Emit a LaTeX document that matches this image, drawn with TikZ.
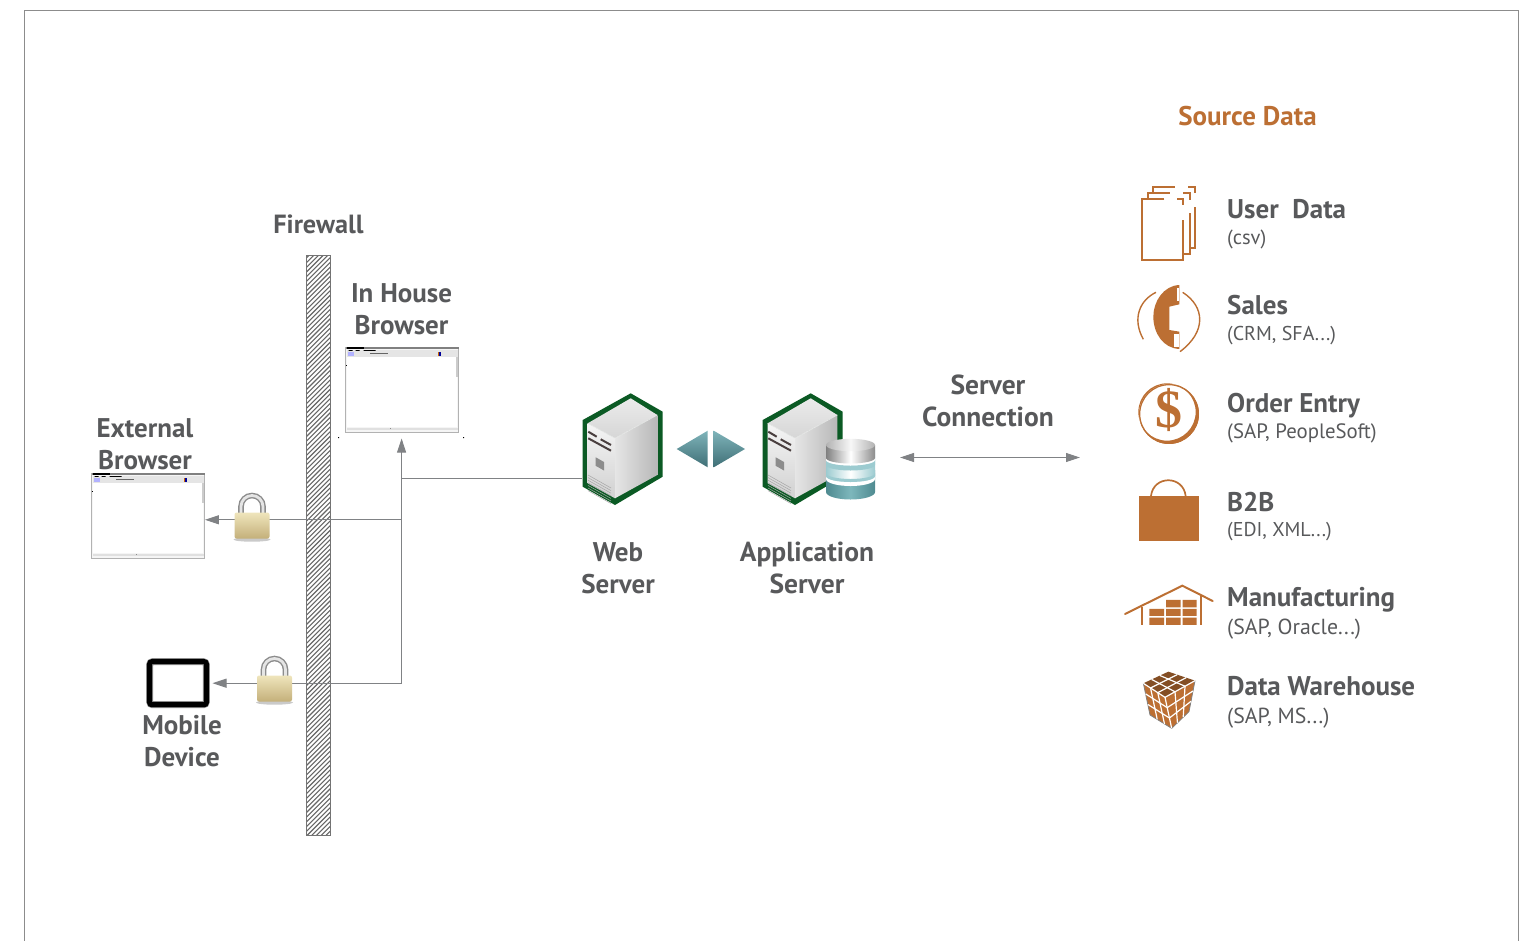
\documentclass[tikz,border=0pt]{standalone}
\usepackage{fontspec}
\setmainfont{PT Sans}
\newfontfamily\dollarfont{Liberation Serif}
\usetikzlibrary{calc,arrows.meta}
\definecolor{txt}{HTML}{58595B}
\definecolor{org}{HTML}{BC6F33}
\definecolor{lnk}{HTML}{808285}
\definecolor{grn}{HTML}{0B5A24}
\definecolor{tanl}{HTML}{EFE5BC}
\definecolor{tand}{HTML}{C4B07A}
\definecolor{tealt}{HTML}{7FB4BA}
\definecolor{tealb}{HTML}{3F6F76}
\definecolor{tealm}{HTML}{9CCBD0}
\definecolor{teald}{HTML}{4F8A90}
\definecolor{teale}{HTML}{7DB7BC}
\definecolor{slot}{HTML}{4A3F3F}
\tikzset{
 x=1pt,y=-1pt,
 head/.style={font=\bfseries\fontsize{27}{32}\selectfont,text=txt,align=center,inner sep=0pt},
 headw/.style={head,font=\bfseries\fontsize{27.5}{32}\selectfont},
 srchead/.style={font=\bfseries\fontsize{27}{28}\selectfont,text=txt,anchor=base west,inner sep=0pt,align=left},
 srcsub/.style={font=\fontsize{#1}{24}\selectfont,text=txt,anchor=base west,inner sep=0pt},
 srcsub/.default=20.5,
 lnkline/.style={draw=lnk,line width=1pt},
 arr/.style={lnkline,-{Triangle[width=9pt,length=14pt]}},
 arrb/.style={lnkline,{Triangle[width=9pt,length=14pt]}-{Triangle[width=9pt,length=14pt]}},
 zoomA/.style={shift={(1120,175)},x=0.3333pt,y=-0.3333pt},
 zoomB/.style={shift={(1120,470)},x=0.3333pt,y=-0.3333pt},
 ic/.style={draw=org,line width=1.7pt},
 serverpic/.pic={
  \fill[grn] (48.7,0.3)--(80.7,18.7)--(80.7,83.7)--(33,112)--(0.7,93.7)--(0.7,27)--cycle;
  \shade[top color=white!92!black,bottom color=white!84!black] (48.7,5.3)--(75.3,22)--(33,45.3)--(5.7,30.3)--cycle;
  \shade[top color=white!96!black,bottom color=white!82!black] (5.7,30.3)--(33,45.3)--(33,105.3)--(5.7,90.3)--cycle;
  \shade[left color=white!90!black,right color=white!72!black] (33,45.3)--(75.3,22)--(75.3,82)--(33,105.3)--cycle;
  \draw[white!92!black,line width=.6pt] (5.7,30.3)--(33,45.3)--(75.3,22);
  \draw[slot,line width=2pt] (6.3,38.7)--(14.7,43.7) (18.7,46.3)--(29,52) (6.3,45.3)--(29,57.7);
  \fill[black!45] (13.7,64.3)--(22,69)--(22,77.5)--(13.7,72.8)--cycle;
  \foreach \k in {0,1,2,3,4,5,6}{\draw[black!35,line width=.5pt] (6,{82+\k*2.6})--(29,{95+\k*2.6});}
 },
 browserpic/.pic={
  \fill[white!96!black] (0,0) rectangle (113,85);
  \fill[white] (1.5,10) rectangle (111,80);
  \draw[black!30,line width=.7pt] (0,0) rectangle (113,85);
  \fill[black!50] (0,0) rectangle (113,2.2);
  \fill[black] (1,0) rectangle (18,2);
  \fill[black!10] (1,3) rectangle (112,9.5);
  \fill[blue!30!white] (2,5) rectangle (8,9);
  \fill[black] (3,3) rectangle (7,3.8) (10,3) rectangle (14,3.8) (18,3) rectangle (30,3.8);
  \fill[black!60] (24,6.3) rectangle (42,7);
  \fill[orange!80!black] (92,5.2) rectangle (93.6,8.5);
  \fill[blue!60!black] (93.6,5.2) rectangle (95.4,8.5);
  \fill[black] (0,18) rectangle (1,19);
  \fill[black!20] (110,10) rectangle (112,30);
  \fill[black!12] (1,80.5) rectangle (112,83);
  \fill[black!45] (44,81) rectangle (45,82);
 },
 lockpic/.pic={
  \fill[black!35,opacity=.6] (17.5,45) ellipse (18.5 and 2.2);
  \draw[black!45,line width=5.6pt] (6.5,20)--(6.5,12) arc[start angle=180,end angle=360,x radius=11,y radius=11]--(28.5,20);
  \draw[white!90!black,line width=2.8pt] (6.5,20)--(6.5,12) arc[start angle=180,end angle=360,x radius=11,y radius=11]--(28.5,20);
  \shade[top color=tanl,bottom color=tand,rounded corners=2pt] (0,18) rectangle (35,44);
 },
}
\begin{document}
\begin{tikzpicture}
\useasboundingbox (0,0) rectangle (1531,940);
% frame
\draw[black!45,line width=.8pt] (24,945)--(24,10.6)--(1518,10.6)--(1518,945);
% firewall
\node[inner sep=0pt,minimum width=24pt,minimum height=580pt] (fw) at (318.7,545.5) {};
\begin{scope}
 \clip (fw.south west) rectangle (fw.north east);
 \foreach \i in {0,1,...,130}{\draw[black!60,line width=1.1pt] (300,{255+\i*4.7})--(340,{215+\i*4.7});}
\end{scope}
\draw[black!55,line width=1pt] (fw.south west) rectangle (fw.north east);
% browsers and other anchored objects
\node[inner sep=0pt,minimum width=113pt,minimum height=85pt] (inhouse) at (402.2,389.8) {};
\node[inner sep=0pt,minimum width=113pt,minimum height=85pt] (external) at (148.2,515.8) {};
\node[inner sep=0pt,minimum width=62.6pt,minimum height=49pt] (mobile) at (178,683.2) {};
\node[inner sep=0pt,minimum width=81pt,minimum height=112pt] (web) at (622.7,449) {};
\node[inner sep=0pt,minimum width=81pt,minimum height=112pt] (app) at (802.7,449) {};
\coordinate (ihb) at ($(inhouse.south)+(-.6,0)$);
\coordinate (w0) at ($(web.west)+(0,29)$);
\coordinate (j0) at (ihb |- w0);
\coordinate (e0) at ($(external.east)+(0,4)$);
\coordinate (j1) at (ihb |- e0);
\coordinate (j2) at (ihb |- mobile.east);
\coordinate (cl) at (900,457.5);
\coordinate (cr) at (1080,457.5);
% connectors
\draw[lnkline] (w0) -- (j0);
\draw[arr,shorten >=6pt] (j0) -- (ihb);
\draw[lnkline] (j0) -- (j2);
\draw[arr,shorten >=3pt] (j2) -- (mobile.east);
\draw[arr] (j1) -- (e0);
\draw[arrb] (cl) -- (cr);
% browsers
\pic at (inhouse.north west) {browserpic};
\pic at (external.north west) {browserpic};
\fill[black] (338,437) rectangle (339,438) (463,437) rectangle (464,438);
% locks
\pic at (234.5,494.5) {lockpic};
\pic at (257,657.5) {lockpic};
% mobile
\draw[black!45,line width=7pt,rounded corners=3pt] ($(mobile.north west)+(3.2,3.2)$) rectangle ($(mobile.south east)+(-3.2,-3.2)$);
\draw[black,line width=5pt,rounded corners=2pt] ($(mobile.north west)+(3.2,3.2)$) rectangle ($(mobile.south east)+(-3.2,-3.2)$);
% servers
\pic at (582,393) {serverpic};
\pic at (762,393) {serverpic};
% triangles
\shade[top color=tealt,bottom color=tealb] (676.7,449)--(707.7,430.7)--(707.7,467.3)--cycle;
\shade[top color=tealt,bottom color=tealb] (713.7,430.7)--(713.7,467.3)--(745,449)--cycle;
% database
\shade[left color=teald,right color=teald,middle color=teale] (826,470) -- (826,492) arc[start angle=180,end angle=0,x radius=24.5,y radius=7.5] -- (875,470) -- cycle;
\fill[white] (826,470) -- (826,479) arc[start angle=180,end angle=0,x radius=24.5,y radius=7] -- (875,470) -- cycle;
\shade[left color=tealm,right color=tealm,middle color=white] (826,450) -- (826,476) arc[start angle=180,end angle=0,x radius=24.5,y radius=6] -- (875,450) -- cycle;
\fill[tealm] (826,476) arc[start angle=180,end angle=0,x radius=24.5,y radius=6] -- (875,473) arc[start angle=0,end angle=180,x radius=24.5,y radius=6] -- cycle;
\fill[tealm] (826,460) arc[start angle=180,end angle=0,x radius=24.5,y radius=5.5] -- (875,465) arc[start angle=0,end angle=180,x radius=24.5,y radius=5.5] -- cycle;
\fill[white] (826,445) -- (826,460) arc[start angle=180,end angle=0,x radius=24.5,y radius=5.5] -- (875,445) -- cycle;
\shade[left color=black!50,right color=black!45,middle color=white] (826,445) -- (826,458) arc[start angle=180,end angle=0,x radius=24.5,y radius=5.5] -- (875,445) -- cycle;
\shade[left color=black!30,right color=black!30,middle color=black!3] (826,445) arc[start angle=180,end angle=-180,x radius=24.5,y radius=6.2];
% labels
\node[head,font=\bfseries\fontsize{26.3}{32}\selectfont] (lfw) at (318.5,224) {Firewall};
\node[head] (lih) at (401.5,309) {In House\\Browser};
\node[head] (lex) at (145,444) {External\\Browser};
\node[head] (lmo) at (182,741) {Mobile\\Device};
\node[head] (lwe) at (618,568) {Web\\Server};
\node[headw] (lap) at (807,568) {Application\\Server};
\node[headw] (lco) at (988,401) {Server\\Connection};
\node[head,text=org] (lsd) at (1247.5,116) {Source Data};
\node[srchead] (s1) at (1227,218.5) {User\ \ Data};
\node[srcsub] (t1) at (1227,244) {(csv)};
\node[srchead] (s2) at (1227,314.5) {Sales};
\node[srcsub=20] (t2) at (1227,340) {(CRM, SFA...)};
\node[srchead] (s3) at (1227,412.5) {Order Entry};
\node[srcsub=20.8] (t3) at (1227,438) {(SAP, PeopleSoft)};
\node[srcsub=20] (t4) at (1227,536) {(EDI, XML...)};
\node[srchead] (s4) at (1227,511.5) {B2B};
\node[srchead] (s5) at (1227,606.5) {Manufacturing};
\node[srcsub=21.8] (t5) at (1227,634) {(SAP, Oracle...)};
\node[srchead] (s6) at (1227,695.5) {Data Warehouse};
\node[srcsub=21.8] (t6) at (1227,723) {(SAP, MS...)};
% doc icon
\begin{scope}[zoomA]
 \draw[ic] (133,72)--(67,72)--(67,255)--(190,255)--(190,135);
 \draw[ic] (172,72)--(190,72)--(190,90);
 \draw[ic] (85,72)--(85,55)--(150,55);
 \draw[ic] (190,55)--(210,55)--(210,75);
 \draw[ic] (210,115)--(210,237)--(190,237);
 \draw[ic] (100,55)--(100,37)--(165,37);
 \draw[ic] (205,37)--(225,37)--(225,55);
 \draw[ic] (225,97)--(225,218)--(210,218);
 % phone
 \draw[ic,line width=1.4pt] (108,352) .. controls (60,375) and (35,430) .. (70,493);
 \draw[ic,line width=1.4pt] (188,352) .. controls (255,395) and (260,470) .. (180,530);
 \fill[org] (178,330) .. controls (130,332) and (100,380) .. (100,425) .. controls (100,475) and (130,520) .. (178,522) -- (178,470) -- (148,465) -- (148,395) -- (178,388) -- cycle;
 \fill[white] (171,340) rectangle (178,378);
 \fill[white] (162,477) rectangle (177,515);
 % dollar
 \draw[ic,line width=1.3pt] (147,717) circle (88);
 \fill[org,even odd rule] (147,717) circle (90) (141,711) circle (86);
 \node[font=\dollarfont\bfseries\fontsize{54}{54}\selectfont,text=org,inner sep=0pt] (dollar) at (146,705) {\$};
\end{scope}
% bag, warehouse, cube
\begin{scope}[zoomB]
 \fill[org] (58,78) rectangle (236,212);
 \draw[ic] (93,78) .. controls (100,15) and (190,15) .. (197,78);
 \draw[ic,line width=2pt,line cap=round] (15,432)--(187,347)--(278,393);
 \draw[ic] (67,410)--(67,465) (244,378)--(244,465);
 \fill[org] (138,390) rectangle (182,412) (188,390) rectangle (230,412);
 \fill[org] (88,417) rectangle (132,438) (138,417) rectangle (182,438) (188,417) rectangle (230,438);
 \fill[org] (88,443) rectangle (132,465) (138,443) rectangle (182,465) (188,443) rectangle (230,465);
 \coordinate (A) at (70,640); \coordinate (B) at (145,605); \coordinate (C) at (225,632); \coordinate (D) at (135,682);
 \coordinate (E) at (155,775); \coordinate (F) at (90,735); \coordinate (G) at (207,725);
 \fill[black!30!org] (A)--(B)--(C)--(D)--cycle;
 \fill[org] (A)--(D)--(E)--(F)--cycle;
 \fill[org] (D)--(C)--(G)--(E)--cycle;
 \draw[black!50,line width=.8pt] (A)--(F)--(E)--(G)--(C);
 \foreach \t in {0.333,0.667}{
  \draw[white,line width=1.2pt] ($(A)!\t!(B)$)--($(D)!\t!(C)$);
  \draw[white,line width=1.2pt] ($(A)!\t!(D)$)--($(B)!\t!(C)$);
  \draw[white,line width=1.2pt] ($(A)!\t!(D)$)--($(F)!\t!(E)$);
  \draw[white,line width=1.2pt] ($(A)!\t!(F)$)--($(D)!\t!(E)$);
  \draw[white,line width=1.2pt] ($(D)!\t!(C)$)--($(E)!\t!(G)$);
  \draw[white,line width=1.2pt] ($(D)!\t!(E)$)--($(C)!\t!(G)$);
 }
 \draw[white,line width=1.2pt] (A)--(D)--(C) (D)--(E);
\end{scope}
\end{tikzpicture}
\end{document}
